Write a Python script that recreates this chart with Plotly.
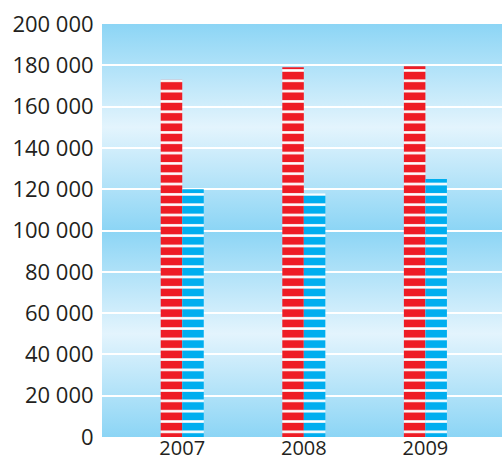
import base64
import plotly.graph_objects as go

categories = ["2007", "2008", "2009"]
red_values = [173000, 179000, 179500]
blue_values = [120000, 118000, 125000]

y_max = 200000
y_dtick = 20000

RED = "#ee1c25"
BLUE = "#00aeef"
DARK = "#8cd5f5"
LIGHT = "#e3f4fd"

# vertical background gradient (dark at 0/100k/200k, light in between)
stops = [(0, DARK), (0.25, LIGHT), (0.5, DARK), (0.75, LIGHT), (1, DARK)]
stop_xml = "".join(f'<stop offset="{o}" stop-color="{c}"/>' for o, c in stops)
svg = (
    '<svg xmlns="http://www.w3.org/2000/svg" width="10" height="100" '
    'viewBox="0 0 10 100" preserveAspectRatio="none">'
    '<defs><linearGradient id="g" x1="0" y1="0" x2="0" y2="1">'
    f'{stop_xml}</linearGradient></defs>'
    '<rect x="0" y="0" width="10" height="100" fill="url(#g)"/></svg>'
)
svg_uri = "data:image/svg+xml;base64," + base64.b64encode(svg.encode()).decode()

W, H = 502, 463
m_l, m_r, m_t, m_b = 102, 0, 24, 26
plot_h = H - m_t - m_b
stripe = plot_h / 40.0

x_pos = list(range(len(categories)))

fig = go.Figure()
fig.add_trace(go.Bar(
    x=x_pos, y=red_values, name="A",
    marker=dict(color=RED, line=dict(width=0),
                pattern=dict(shape="-", fgcolor="white", bgcolor=RED,
                             size=stripe, solidity=0.25, fillmode="replace")),
))
fig.add_trace(go.Bar(
    x=x_pos, y=blue_values, name="B",
    marker=dict(color=BLUE, line=dict(width=0),
                pattern=dict(shape="-", fgcolor="white", bgcolor=BLUE,
                             size=stripe, solidity=0.25, fillmode="replace")),
))

fig.update_layout(
    width=W, height=H,
    margin=dict(l=m_l, r=m_r, t=m_t, b=m_b),
    paper_bgcolor="white",
    plot_bgcolor="rgba(0,0,0,0)",
    barmode="group",
    bargap=0.646,
    bargroupgap=0,
    showlegend=False,
    separators=", ",
    font=dict(family="Open Sans", size=22, color="#231f20"),
    images=[dict(source=svg_uri, xref="paper", yref="paper", x=0, y=1,
                 sizex=1, sizey=1, sizing="stretch", layer="below",
                 xanchor="left", yanchor="top")],
)
fig.update_xaxes(
    range=[-0.66, 2.63],
    tickvals=x_pos, ticktext=categories,
    tickfont=dict(size=20),
    showgrid=False, zeroline=False, showline=False, ticks="",
    ticklabelstandoff=-3, automargin=False,
    fixedrange=True,
)
fig.update_yaxes(
    range=[0, y_max], dtick=y_dtick, tick0=0, tickformat=",d",
    showgrid=True, gridcolor="white", gridwidth=2,
    zeroline=False, showline=True, linecolor="rgba(255,255,255,0.5)", linewidth=2,
    ticks="", ticklabelstandoff=2, automargin=False,
    fixedrange=True,
)

fig.write_html(
    "out.html",
    config={"displayModeBar": False},
    post_script="document.body.style.margin='0';document.body.style.overflow='hidden';",
)
